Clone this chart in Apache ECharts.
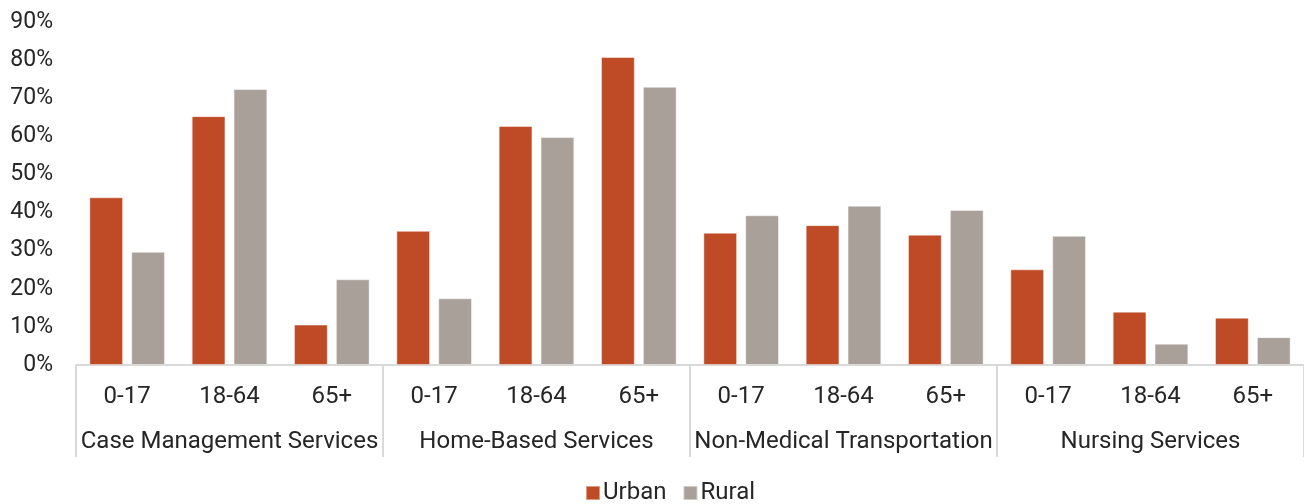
<!DOCTYPE html>
<html>
<head>
<meta charset="utf-8">
<script src="https://cdn.jsdelivr.net/npm/echarts@6/dist/echarts.min.js"></script>
<style>
    html, body {margin: 0; padding: 0; background: #fff;}
    #chart {width: 1304px; height: 504px;}
</style>
</head>
<body>
<div id="chart"></div>
<script>
// age bands, repeated under each service group
var ageBands = ['0-17', '18-64', '65+'];
var services = ['Case Management Services', 'Home-Based Services', 'Non-Medical Transportation', 'Nursing Services'];

// percent of members, per service then per age band
var urbanValues = [44, 65.3, 10.6, 35.2, 62.7, 80.8, 34.7, 36.7, 34.2, 25.1, 14, 12.4];
var ruralValues = [29.7, 72.4, 22.5, 17.5, 59.8, 73, 39.3, 41.8, 40.7, 33.9, 5.6, 7.3];

var yTicks = [0, 10, 20, 30, 40, 50, 60, 70, 80, 90];

var urbanColor = '#be4a26';
var ruralColor = '#a9a09a';
var textColor = '#262626';
var fontFamily = 'Roboto, sans-serif';

var categories = [];
services.forEach(function (s) {
    ageBands.forEach(function (a) {
        categories.push(a);
    });
});

var myChart = echarts.init(document.getElementById('chart'));

var option = {
    animation: false,
    textStyle: {fontFamily: fontFamily},
    grid: {left: 76, right: 0, top: 22, bottom: 139},
    legend: {
        left: 580,
        top: 476,
        itemWidth: 14,
        itemHeight: 14,
        itemGap: 16,
        icon: 'rect',
        textStyle: {fontSize: 24, color: textColor, fontFamily: fontFamily, padding: [0, 0, 0, -2]},
        data: ['Urban', 'Rural']
    },
    xAxis: [
        {
            type: 'category',
            data: categories,
            position: 'bottom',
            axisLine: {show: true, lineStyle: {color: '#d9d9d9', width: 2}},
            axisTick: {show: false},
            axisLabel: {fontSize: 24, color: textColor, margin: 20, interval: 0}
        },
        {
            type: 'category',
            data: services,
            position: 'bottom',
            axisLine: {show: false},
            axisTick: {show: true, length: 92, lineStyle: {color: '#d9d9d9', width: 2}},
            axisLabel: {fontSize: 24, color: textColor, margin: 65, interval: 0}
        }
    ],
    yAxis: {
        type: 'value',
        min: yTicks[0],
        max: yTicks[yTicks.length - 1],
        interval: 10,
        splitLine: {show: false},
        axisLine: {show: false},
        axisTick: {show: false},
        axisLabel: {fontSize: 23, color: textColor, margin: 23, formatter: '{value}%'}
    },
    series: [
        {
            name: 'Urban',
            type: 'bar',
            xAxisIndex: 0,
            data: urbanValues,
            barWidth: '33%',
            barGap: '24%',
            itemStyle: {color: urbanColor, borderColor: 'rgba(255,255,255,0.45)', borderWidth: 1}
        },
        {
            name: 'Rural',
            type: 'bar',
            xAxisIndex: 0,
            data: ruralValues,
            barWidth: '33%',
            barGap: '24%',
            itemStyle: {color: ruralColor, borderColor: 'rgba(255,255,255,0.45)', borderWidth: 1}
        }
    ]
};

myChart.setOption(option);
</script>
</body>
</html>
